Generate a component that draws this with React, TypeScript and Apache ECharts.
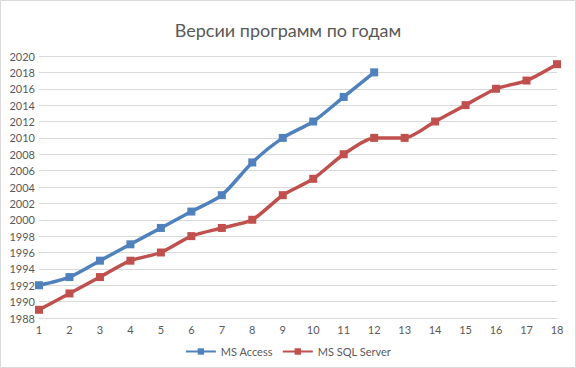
import React, { useEffect, useRef } from "react";
import * as echarts from "echarts";

const categories = ["1","2","3","4","5","6","7","8","9","10","11","12","13","14","15","16","17","18"];
const msAccess = [1992, 1993, 1995, 1997, 1999, 2001, 2003, 2007, 2010, 2012, 2015, 2018];
const msSqlServer = [1989, 1991, 1993, 1995, 1996, 1998, 1999, 2000, 2003, 2005, 2008, 2010, 2010, 2012, 2014, 2016, 2017, 2019];
const titleText = "Версии программ по годам";

export default function App() {
  const ref = useRef<HTMLDivElement>(null);
  useEffect(() => {
    if (!ref.current) return;
    const chart = echarts.init(ref.current, undefined, { renderer: "svg" });
    const font = "Lato, 'Open Sans', sans-serif";
    chart.setOption({
      animation: false,
      backgroundColor: "#ffffff",
      textStyle: { fontFamily: font },
      title: {
        text: titleText,
        left: "center",
        top: 16,
        textStyle: { fontFamily: font, fontSize: 18, fontWeight: "normal", color: "#595959" },
      },
      graphic: [
        {
          type: "rect",
          shape: { x: 0.5, y: 0.5, width: 575, height: 367 },
          style: { fill: "none", stroke: "#d9d9d9", lineWidth: 1 },
          silent: true,
        },
      ],
      legend: {
        bottom: 6,
        left: "center",
        itemWidth: 30,
        itemHeight: 8,
        itemGap: 9,
        textStyle: { fontFamily: font, fontSize: 11, color: "#595959" },
        data: ["MS Access", "MS SQL Server"],
      },
      grid: { left: 39, right: 19, top: 56, bottom: 50, containLabel: false },
      xAxis: {
        type: "category",
        data: categories,
        boundaryGap: false,
        axisLine: { lineStyle: { color: "#d9d9d9" } },
        axisTick: { show: false },
        axisLabel: { color: "#595959", fontSize: 11, fontFamily: font, margin: 6 },
        splitLine: { show: false },
      },
      yAxis: {
        type: "value",
        min: 1988,
        max: 2020,
        interval: 2,
        axisLine: { show: false },
        axisTick: { show: false },
        axisLabel: {
          color: "#595959",
          fontSize: 11,
          fontFamily: font,
          margin: 4,
          formatter: (v: number) => String(v),
        },
        splitLine: { lineStyle: { color: "#d9d9d9", width: 1 } },
      },
      series: [
        {
          name: "MS Access",
          type: "line",
          data: msAccess,
          smooth: 0.25,
          symbol: "rect",
          symbolSize: 8,
          color: "#4f81bd",
          lineStyle: { width: 3.5, color: "#4f81bd" },
          itemStyle: { color: "#4f81bd" },
        },
        {
          name: "MS SQL Server",
          type: "line",
          data: msSqlServer,
          smooth: 0.25,
          symbol: "rect",
          symbolSize: 8,
          color: "#c0504d",
          lineStyle: { width: 3.5, color: "#c0504d" },
          itemStyle: { color: "#c0504d" },
        },
      ],
    });
    return () => chart.dispose();
  }, []);
  return (
    <div
      ref={ref}
      style={{ position: "fixed", left: 0, top: 0, width: 576, height: 368 }}
    />
  );
}
